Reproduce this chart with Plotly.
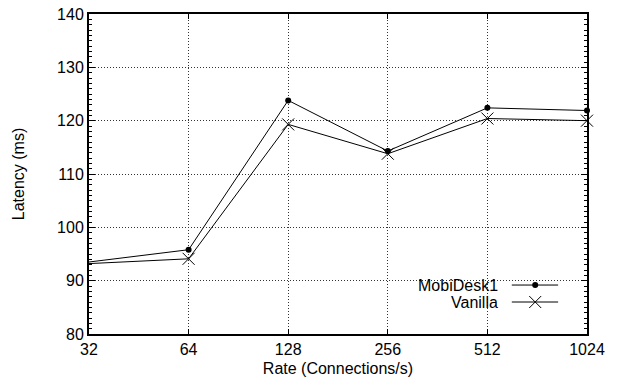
import plotly.graph_objects as go

rates = [32, 64, 128, 256, 512, 1024]
mobidesk = [93.5, 95.8, 123.8, 114.3, 122.4, 121.9]
vanilla = [93.2, 94.1, 119.3, 113.8, 120.4, 120.0]
y_ticks = [80, 90, 100, 110, 120, 130, 140]
series_names = ["MobiDesk1", "Vanilla"]

FONT = "Liberation Sans, Arial, sans-serif"

fig = go.Figure()
fig.add_trace(go.Scatter(x=rates, y=mobidesk, mode="lines+markers", name=series_names[0],
                         line=dict(color="black", width=1),
                         marker=dict(symbol="circle", size=6, color="black"),
                         cliponaxis=False, showlegend=False))
fig.add_trace(go.Scatter(x=rates, y=vanilla, mode="lines+markers", name=series_names[1],
                         line=dict(color="black", width=1),
                         marker=dict(symbol="x-thin-open", size=12, color="black",
                                     line=dict(color="black", width=1)),
                         cliponaxis=False, showlegend=False))

# Manual legend (gnuplot style: text right-aligned, sample to the right)
leg_y = [0.153, 0.100]
leg_sym = [dict(symbol="circle", size=6, color="black"),
           dict(symbol="x-thin-open", size=12, color="black", line=dict(color="black", width=1))]
for name, yy, sym in zip(series_names, leg_y, leg_sym):
    fig.add_trace(go.Scatter(x=[0.849, 0.942], y=[yy, yy], mode="lines", xaxis="x2", yaxis="y2",
                             line=dict(color="black", width=1), showlegend=False, hoverinfo="skip"))
    fig.add_trace(go.Scatter(x=[0.896], y=[yy], mode="markers", xaxis="x2", yaxis="y2",
                             marker=sym, showlegend=False, hoverinfo="skip"))
    fig.add_annotation(x=0.825, y=yy, xref="paper", yref="paper", text=name, showarrow=False,
                       xanchor="right", yanchor="middle", font=dict(family=FONT, size=16, color="black"))

GRID_DASH = "1px,2px"

fig.update_layout(
    width=620, height=379,
    margin=dict(l=89, r=33, t=14, b=45, autoexpand=False),
    paper_bgcolor="white", plot_bgcolor="white",
    font=dict(family=FONT, size=16, color="black"),
    xaxis=dict(type="log", range=[1.50515, 3.0103], tickvals=rates, ticktext=[str(r) for r in rates],
               showgrid=True, gridcolor="#333", griddash=GRID_DASH, gridwidth=1,
               showline=True, linecolor="black", linewidth=2, mirror="ticks",
               ticks="inside", ticklen=5, tickcolor="black",
               zeroline=False, automargin=False,
               title=dict(text="Rate (Connections/s)", font=dict(size=16), standoff=6)),
    yaxis=dict(range=[80, 140], tickvals=y_ticks,
               showgrid=True, gridcolor="#333", griddash=GRID_DASH, gridwidth=1,
               showline=True, linecolor="black", linewidth=2, mirror="ticks",
               ticks="inside", ticklen=6, tickcolor="black", zeroline=False, automargin=False,
               minor=dict(dtick=1, ticks="inside", ticklen=3, tickcolor="black", showgrid=False),
               title=dict(text="Latency (ms)", font=dict(size=16), standoff=28)),
    xaxis2=dict(overlaying="x", range=[0, 1], visible=False),
    yaxis2=dict(overlaying="y", range=[0, 1], visible=False),
)

fig.write_html("out.html", config={"displayModeBar": False},
               post_script="document.body.style.margin='0';document.body.style.padding='0';")
